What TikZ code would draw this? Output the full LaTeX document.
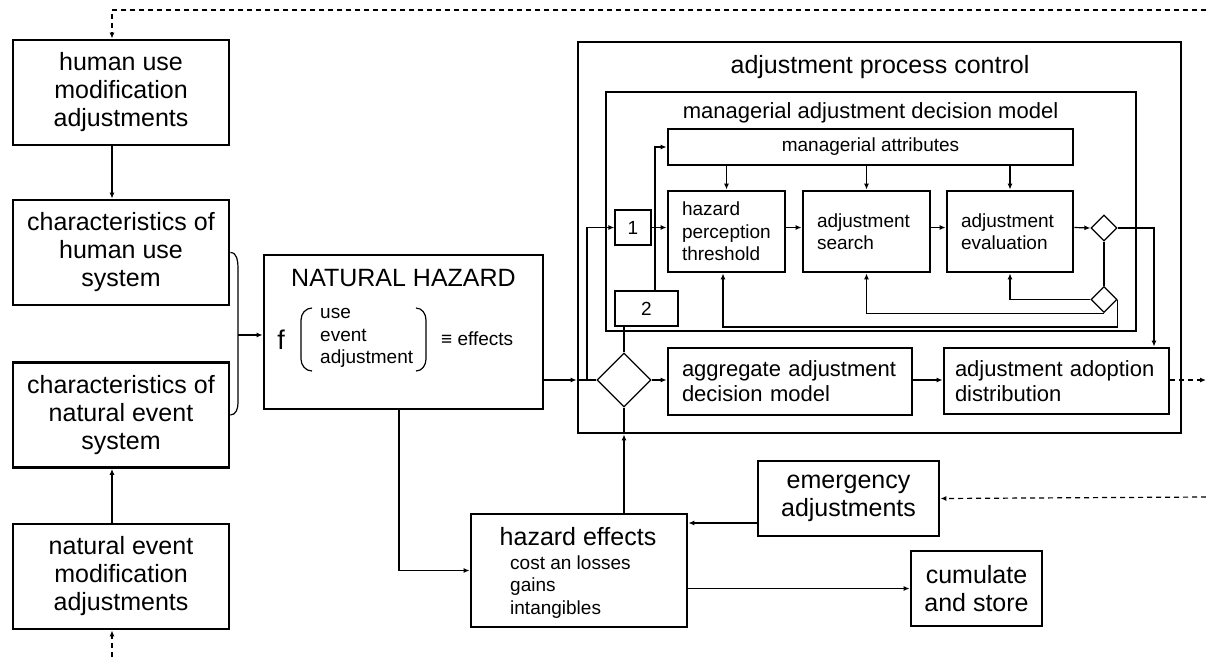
\documentclass[tikz,border=0pt]{standalone}
\usepackage{fontspec}
\setmainfont{Liberation Sans}
\usetikzlibrary{arrows.meta,calc,shapes.geometric}

\begin{document}
\begin{tikzpicture}[x=1pt,y=-1pt,>=Latex,
  box/.style={draw,line width=2.8pt,align=center,inner sep=0pt,
    font=\fontsize{25}{28}\selectfont},
  lbox/.style={box,minimum width=216pt,minimum height=105pt},
  sbox/.style={draw,line width=2.8pt,align=left,inner xsep=14pt,inner ysep=0pt,
    minimum height=81pt,font=\fontsize{19}{22.5}\selectfont},
  num/.style={draw,line width=1.3pt,inner sep=0pt,minimum height=35pt,
    font=\fontsize{19}{22}\selectfont},
  dec/.style={draw,diamond,line width=1.3pt,inner sep=0pt},
  ttl/.style={inner sep=0pt,font=\fontsize{25}{28}\selectfont},
  a/.style={-{Latex[length=6pt,width=5pt]},line width=1.2pt},
  ln/.style={line width=1.2pt},
  dline/.style={-{Latex[length=6pt,width=5pt]},line width=1.2pt,dash pattern=on 5pt off 4pt}]
\useasboundingbox (0,0) rectangle (1206,657);
\node[lbox] (hum) at (121,92.5) {human use\\modification\\adjustments};
\node[lbox] (chu) at (121,252.5) {characteristics of\\human use\\system};
\node[lbox] (cne) at (121,415) {characteristics of\\natural event\\system};
\node[lbox] (nem) at (121,576.5) {natural event\\modification\\adjustments};
\coordinate (topin) at (1206,10);
\coordinate (botin) at (112,657);
\draw[dline] (topin) -| ([xshift=-9pt]hum.north);
\draw[a] ([xshift=-9pt]hum.south) -- ([xshift=-9pt]chu.north);
\draw[dline] (botin) -- ([xshift=-9pt]nem.south);
\draw[a] ([xshift=-9pt]nem.north) -- ([xshift=-9pt]cne.south);
\draw[ln] (chu.east) to[out=0,in=90] (238,268) -- (238,403) to[out=-90,in=0] (cne.east);
\coordinate (brc) at (238,335);
\node[box,minimum width=279pt,minimum height=154pt] (nh) at (403.5,332) {};
\draw[a] (brc) -- (brc -| nh.west);
\node[ttl] (nht) at (403.5,278) {NATURAL HAZARD};
\node[inner sep=0pt,font=\fontsize{27}{28}\selectfont] (fn) at (281,340) {f};
\node[anchor=west,align=left,inner sep=0pt,font=\fontsize{19}{22.5}\selectfont] (uea) at (320,338) {use\\event\\adjustment};
\draw[ln] (312,308) to[out=180,in=90] (301,320) -- (301,359) to[out=-90,in=180] (312,371);
\draw[ln] (416,308) to[out=0,in=90] (426,320) -- (426,359) to[out=-90,in=0] (416,371);
\node[anchor=west,inner sep=0pt,font=\fontsize{19}{22}\selectfont] (eff) at (441,339) {≡ effects};
\node[draw,line width=2.8pt,minimum width=603pt,minimum height=391pt] (apc) at (879.5,237.5) {};
\node[ttl] (apct) at (880,67) {adjustment process control};
\node[draw,line width=2.8pt,minimum width=530pt,minimum height=239pt] (madm) at (871,211.5) {};
\node[inner sep=0pt,font=\fontsize{22}{25}\selectfont] (madmt) at (870.5,113) {managerial adjustment decision model};
\node[draw,line width=2.8pt,minimum width=405pt,minimum height=36pt,inner sep=0pt,
  font=\fontsize{19}{22}\selectfont] (attr) at (870.5,147) {managerial attributes};
\node[sbox,text width=89pt] (hpt) at (726.5,231.5) {hazard\\perception\\threshold};
\node[sbox,text width=99pt] (srch) at (866.5,231.5) {adjustment\\search};
\node[sbox,text width=98pt] (eval) at (1010,231.5) {adjustment\\evaluation};
\node[num,minimum width=36pt] (one) at (633,227.5) {1};
\node[num,minimum width=63pt] (two) at (646.5,308.5) {2};
\node[dec,minimum size=26pt] (dq1) at (1104,228) {};
\node[dec,minimum size=26pt] (dq2) at (1104,299.5) {};
\node[dec,minimum size=54pt] (dmain) at (624,380) {};
\node[sbox,font=\fontsize{22}{25}\selectfont,text width=216pt,minimum height=67pt] (agg) at (790,381.5) {aggregate adjustment\\decision model};
\node[sbox,font=\fontsize{22}{25}\selectfont,inner xsep=11pt,text width=203pt,minimum height=66pt] (aad) at (1056.5,381) {adjustment adoption\\distribution};
\draw[a] (attr.south -| hpt.north) -- (hpt.north);
\draw[a] (attr.south -| srch.north) -- (srch.north);
\draw[a] (attr.south -| eval.north) -- (eval.north);
\coordinate (jn) at (587,380);
\coordinate (outr) at (1206,380);
\draw[a] (nh.east |- dmain) -- (apc.west |- dmain);
\draw[ln] (apc.west |- dmain) -- (dmain.west);
\draw[a] (jn) |- (one.west);
\draw[a] (one) -- (one -| hpt.west);
\draw[a] (one -| hpt.east) -- (one -| srch.west);
\draw[a] (one -| srch.east) -- (one -| eval.west);
\draw[a] (one -| eval.east) -- (dq1.west);
\draw[ln] (dq1.south) -- (dq2.north);
\draw[a] (dq1.east) -| ([xshift=97.5pt]aad.north);
\draw[a] (dq2.west) -| (eval.south);
\draw[a] (dq2.south) -| (srch.south);
\draw[a] (dq2.east) -- ++(0,27.5) -| ([xshift=-3.5pt]hpt.south);
\draw[a] ([xshift=8.5pt]two.north) |- (attr.west);
\draw[ln] (dmain.north) -- (dmain.north |- two.south);
\draw[a] (dmain.east) -- (agg.west |- dmain);
\draw[a] (agg.east |- dmain) -- (aad.west |- dmain);
\draw[dline] (aad.east |- outr) -- (outr);
\node[box,minimum width=216pt,minimum height=113pt] (he) at (579,570.5) {};
\node[ttl] (het) at (578,537) {hazard effects};
\node[anchor=west,align=left,inner sep=0pt,font=\fontsize{19}{22.5}\selectfont] (hel) at (510,587) {cost an losses\\gains\\intangibles};
\node[box,minimum width=181pt,minimum height=75pt] (em) at (848.5,498.5) {emergency\\adjustments};
\node[box,minimum width=131pt,minimum height=75pt] (cum) at (976.5,588.5) {cumulate\\and store};
\coordinate (emin) at (1206,497);
\draw[a] (he.north -| dmain) -- (apc.south -| dmain);
\draw[ln] (apc.south -| dmain) -- (dmain.south);
\draw[a] ([xshift=-4.5pt]nh.south) |- (he.west);
\draw[a] ([yshift=-24.5pt]em.west) -- ([yshift=-24.5pt]em.west -| he.east);
\draw[dline] (emin) -- (em.east);
\draw[a] (he.east |- cum) -- (cum.west);
\end{tikzpicture}
\end{document}
